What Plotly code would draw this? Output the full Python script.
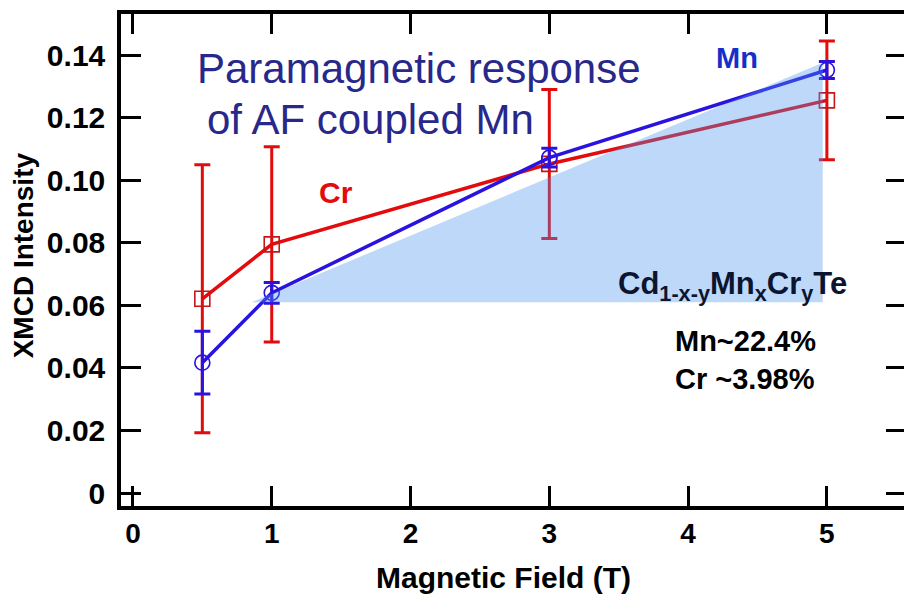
import plotly.graph_objects as go

# ---- data ----
field = [0.5, 1, 3, 5]
cr_values = [0.0621, 0.0795, 0.1052, 0.1255]
cr_errors = [0.0428, 0.0312, 0.0238, 0.0190]
mn_values = [0.0417, 0.0640, 0.1072, 0.1352]
mn_errors = [0.0100, 0.0033, 0.0030, 0.0027]

# shaded "paramagnetic response" region (triangle)
fill_x = [0.855, 4.97, 4.97, 0.855]
fill_y = [0.0610, 0.1375, 0.0610, 0.0610]

x_ticks = [0, 1, 2, 3, 4, 5]
y_ticks = [0, 0.02, 0.04, 0.06, 0.08, 0.10, 0.12, 0.14]
y_tick_text = ["0", "0.02", "0.04", "0.06", "0.08", "0.10", "0.12", "0.14"]

RED = "#e30b0b"
BLUE = "#2a12df"
FONT = "Liberation Sans, Arial, sans-serif"

fig = go.Figure()

fig.add_trace(go.Scatter(
    x=field, y=cr_values, mode="lines+markers", name="Cr",
    line=dict(color=RED, width=3.5),
    marker=dict(symbol="square-open", size=15, color="#c41818", line=dict(width=1.6)),
    error_y=dict(type="data", array=cr_errors, color=RED, thickness=3, width=8),
))
fig.add_trace(go.Scatter(
    x=field, y=mn_values, mode="lines+markers", name="Mn",
    line=dict(color=BLUE, width=3.5),
    marker=dict(symbol="circle-open", size=15, color=BLUE, line=dict(width=1.6)),
    error_y=dict(type="data", array=mn_errors, color=BLUE, thickness=3, width=8),
))
fig.add_trace(go.Scatter(
    x=fill_x, y=fill_y, mode="lines", fill="toself",
    fillcolor="rgba(80,150,240,0.37)", line=dict(width=0),
    hoverinfo="skip", name="fill",
))

axis_common = dict(
    showline=True, linecolor="black", linewidth=3.5, mirror="ticks",
    ticks="inside", ticklen=20, tickwidth=3, tickcolor="black",
    showgrid=False, zeroline=False,
)

# the page body has an 8px margin, so the figure is 8px smaller than the window
fig.update_layout(
    width=904, height=586,
    margin=dict(l=113, r=4, t=2, b=88),
    paper_bgcolor="white", plot_bgcolor="white",
    showlegend=False,
    font=dict(family=FONT),
    xaxis=dict(
        range=[-0.086, 5.57], tickvals=x_ticks,
        tickfont=dict(family=FONT, size=28, color="black", weight="bold"),
        **axis_common,
    ),
    yaxis=dict(
        range=[-0.0041, 0.1531], tickvals=y_ticks, ticktext=y_tick_text,
        ticklabelstandoff=6,
        tickfont=dict(family=FONT, size=30, color="black", weight="bold"),
        **axis_common,
    ),
)

# axis titles
fig.add_annotation(xref="paper", yref="paper", x=0.4867, y=-0.1452,
                   text="Magnetic Field (T)", showarrow=False,
                   xanchor="center", yanchor="middle",
                   font=dict(family=FONT, size=30, color="black", weight="bold"))
fig.add_annotation(xref="paper", yref="paper", x=-0.1239, y=0.509,
                   text="XMCD Intensity", showarrow=False, textangle=-90,
                   xanchor="center", yanchor="middle",
                   font=dict(family=FONT, size=28, color="black", weight="bold"))

annos = [
    dict(x=2.058, y=0.1357, text="Paramagnetic response",
         font=dict(family=FONT, size=42, color="#28288a")),
    dict(x=1.710, y=0.1195, text="of AF coupled Mn",
         font=dict(family=FONT, size=42, color="#28288a")),
    dict(x=1.466, y=0.0960, text="Cr",
         font=dict(family=FONT, size=30, color=RED, weight="bold")),
    dict(x=4.350, y=0.1391, text="Mn",
         font=dict(family=FONT, size=29, color="#1530c8", weight="bold")),
    dict(x=4.317, y=0.0661,
         text="Cd<sub>1-x-y</sub>Mn<sub>x</sub>Cr<sub>y</sub>Te",
         font=dict(family=FONT, size=31, color="#0b1530", weight="bold")),
    dict(x=3.890, y=0.0426, text="Mn~22.4%<br>Cr ~3.98%", xanchor="left", align="left",
         font=dict(family=FONT, size=29, color="black", weight="bold")),
]
for a in annos:
    a.setdefault("xanchor", "center")
    fig.add_annotation(xref="x", yref="y", showarrow=False, yanchor="middle", **a)

fig.write_html("out.html")
